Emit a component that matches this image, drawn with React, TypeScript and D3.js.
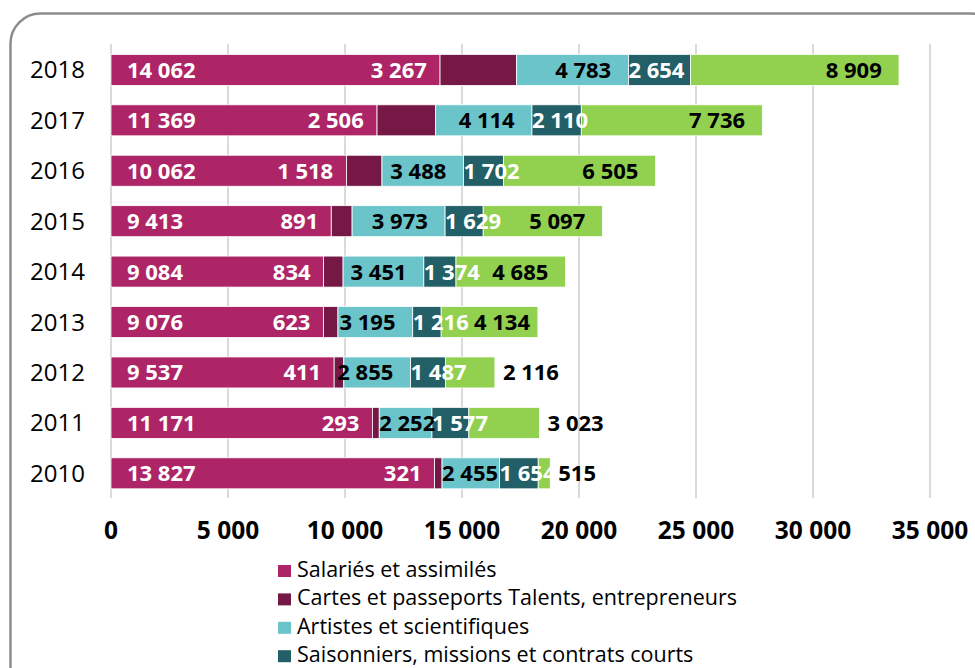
import React from "react";
import * as d3 from "d3";

const years = ["2018", "2017", "2016", "2015", "2014", "2013", "2012", "2011", "2010"];
const seriesNames = [
  "Salariés et assimilés",
  "Cartes et passeports Talents, entrepreneurs",
  "Artistes et scientifiques",
  "Saisonniers, missions et contrats courts",
  "Autres",
];
const salaries = [14062, 11369, 10062, 9413, 9084, 9076, 9537, 11171, 13827];
const cartes = [3267, 2506, 1518, 891, 834, 623, 411, 293, 321];
const artistes = [4783, 4114, 3488, 3973, 3451, 3195, 2855, 2252, 2455];
const saisonniers = [2654, 2110, 1702, 1629, 1374, 1216, 1487, 1577, 1654];
const autres = [8909, 7736, 6505, 5097, 4685, 4134, 2116, 3023, 515];
const xTicks = [0, 5000, 10000, 15000, 20000, 25000, 30000, 35000];
const colors = ["#AD2566", "#751846", "#6CC4CB", "#235F66", "#92D050"];
const labelColors = ["#fff", "#fff", "#000", "#fff", "#000"];

const fmt = (v: number) => d3.format(",")(v).replace(/,/g, " ");

const LABEL_FS = 22;
const textW = (s: string) =>
  s.split("").reduce((a, c) => a + (c === " " ? 0.27 : 0.572) * LABEL_FS, 0);

export default function App() {
  const W = 975, H = 668;
  const x = d3.scaleLinear().domain([0, 35000]).range([111, 930]);
  const y = d3.scaleBand<string>().domain(years).range([44.8, 498.4]).paddingInner(0.385).paddingOuter(0.19);
  const seriesData = [salaries, cartes, artistes, saisonniers, autres];
  const rows = years.map((yr, i) => {
    const o: any = { year: yr };
    seriesData.forEach((s, k) => (o["s" + k] = s[i]));
    return o;
  });
  const stack = d3.stack<any>().keys(seriesNames.map((_, k) => "s" + k))(rows);
  const font = "'Open Sans', 'Segoe UI', sans-serif";
  const bw = y.bandwidth();

  // compute label starts per row (left-to-right)
  const labels: any[] = [];
  years.forEach((yr, i) => {
    let prevEnd = -Infinity;
    stack.forEach((layer, k) => {
      const d = layer[i];
      const x0 = x(d[0]);
      const x1 = x(d[1]);
      const txt = fmt(d[1] - d[0]);
      const w = textW(txt);
      let start = 0;
      let fill = labelColors[k];
      if (k === 0) start = x0 + 16;
      else if (k === 1) start = x0 - 13 - w;
      else if (k === 2) {
        const s = x1 - 17 - w;
        start = s < x0 - 12 ? x0 : s;
      } else if (k === 3) start = x0;
      else {
        if (x1 - x0 > w + 30) {
          start = Math.max(x1 - 17 - w, prevEnd + 5);
        } else {
          start = x1 + 8;
          fill = "#000";
        }
      }
      prevEnd = start + w;
      labels.push({ k, i, txt, start, fill, cy: (y(yr) as number) + bw / 2 + 8 });
    });
  });

  return (
    <svg width={W} height={H} style={{ position: "absolute", left: 0, top: 0, background: "#fff" }}>
      <rect x={10.5} y={13.5} width={990} height={700} rx={30} ry={30} fill="#fff" stroke="#8c8c8c" strokeWidth={2.5} />
      {xTicks.map((t) => (
        <line key={"g" + t} x1={x(t)} x2={x(t)} y1={44} y2={498} stroke="#dadada" strokeWidth={2} />
      ))}
      {stack.map((layer, k) => (
        <g key={"s" + k} fill={colors[k]}>
          {layer.map((d, i) => (
            <rect key={i} x={x(d[0])} y={y(years[i])} width={x(d[1]) - x(d[0])} height={bw}
              stroke="#fff" strokeWidth={0.8} />
          ))}
        </g>
      ))}
      {labels.map((l) => (
        <text key={`l${l.k}-${l.i}`} x={l.start} y={l.cy} fill={l.fill}
          fontFamily={font} fontWeight={700} fontSize={LABEL_FS}>
          {l.txt}
        </text>
      ))}
      {years.map((yr) => (
        <text key={"y" + yr} x={85} y={(y(yr) as number) + bw / 2 + 8.5} textAnchor="end"
          fontFamily={font} fontSize={24} fill="#000">
          {yr}
        </text>
      ))}
      {xTicks.map((t) => (
        <text key={"t" + t} x={x(t)} y={539} textAnchor="middle" fontFamily={font}
          fontWeight={700} fontSize={24.5} fill="#000">
          {fmt(t)}
        </text>
      ))}
      {seriesNames.map((n, k) => (
        <g key={"lg" + k}>
          <rect x={278} y={565 + k * 28.4} width={13} height={12} fill={colors[k]} />
          <text x={297} y={577 + k * 28.4} fontFamily={font} fontSize={21.5} fill="#000">
            {n}
          </text>
        </g>
      ))}
    </svg>
  );
}
